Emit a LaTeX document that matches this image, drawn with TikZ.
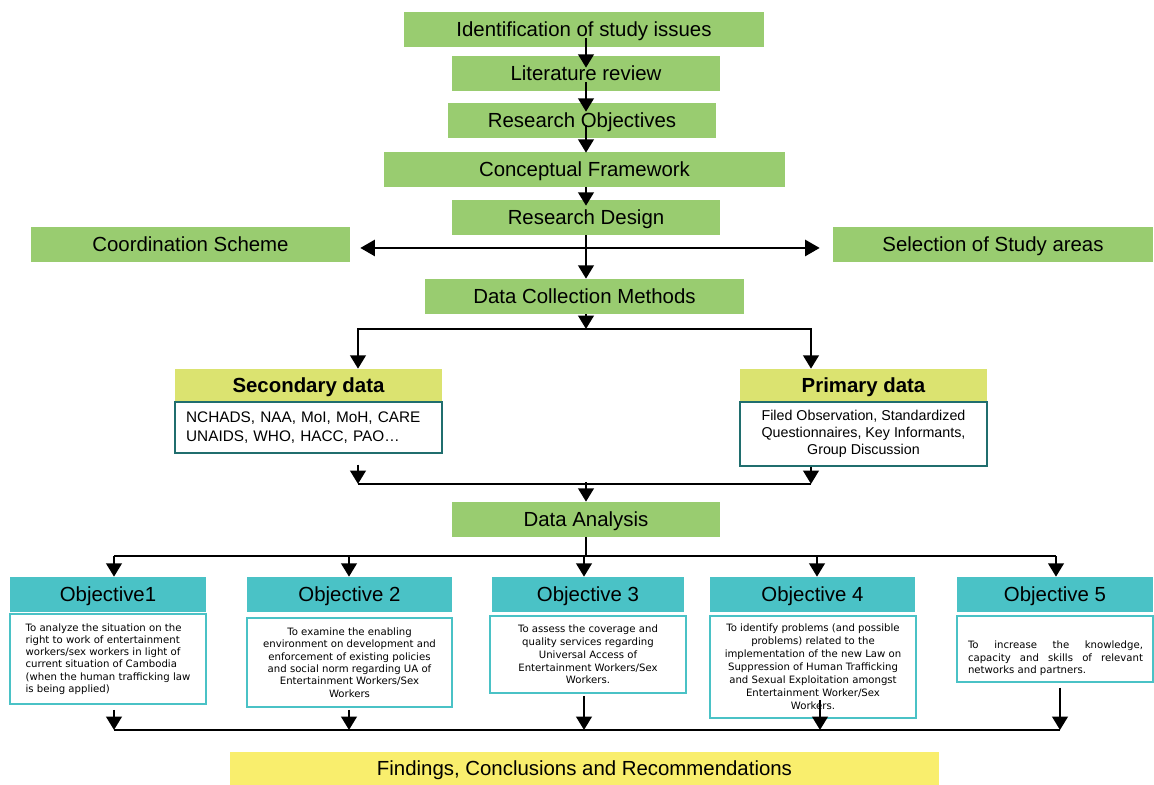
\documentclass[tikz,border=0pt]{standalone}
\usepackage{fontspec}
\setmainfont{Liberation Sans}
\newfontfamily\verdana{DejaVu Sans}
\usetikzlibrary{arrows.meta}
\usepackage{xcolor}
\definecolor{stagegreen}{RGB}{153,204,112}
\definecolor{objteal}{RGB}{74,194,198}
\definecolor{datalime}{RGB}{219,227,112}
\definecolor{findyellow}{RGB}{249,238,109}
\definecolor{datateal}{RGB}{32,110,110}
\newcommand{\mainsize}{\fontsize{15.3pt}{18pt}\selectfont}
\newcommand{\objsize}[1]{\verdana\fontsize{7.6pt}{#1}\selectfont}

\begin{document}
\begin{tikzpicture}[x=0.75pt,y=-0.75pt]
    \tikzset{
        stage/.style={fill=stagegreen,inner sep=0pt,minimum height=26.25pt,font=\mainsize,
            text height=11pt,text depth=0pt},
        datahead/.style={fill=datalime,inner sep=0pt,minimum height=24pt,font=\mainsize\bfseries,
            text height=11pt,text depth=0pt},
        databox/.style={draw=datateal,line width=1.3pt,fill=white,inner xsep=8.25pt,inner ysep=2pt},
        objhead/.style={fill=objteal,inner sep=0pt,minimum height=26.25pt,font=\mainsize,
            text height=11pt,text depth=0pt},
        objbox/.style={draw=objteal,line width=1.4pt,fill=white,inner sep=0pt},
        findbox/.style={fill=findyellow,inner sep=0pt,minimum height=24.75pt,font=\mainsize,
            text height=11pt,text depth=0pt},
        arr/.style={line width=2.1pt,-{Triangle[length=10pt,width=11.5pt]}},
        link/.style={line width=2.1pt}
    }
    \useasboundingbox (0,0) rectangle (1154,785);
    % main steps
    \node[stage,minimum width=270pt]    (ident)   at (584,29.5)   {Identification of study issues};
    \node[stage,minimum width=201pt]    (litrev)  at (586,73.5)   {Literature review};
    \node[stage,minimum width=201pt]    (resobj)  at (582,120.5)  {Research Objectives};
    \node[stage,minimum width=300.75pt] (concept) at (584.5,169.5) {Conceptual Framework};
    \node[stage,minimum width=201pt]    (design)  at (586,217.5)  {Research Design};
    \node[stage,minimum width=239.25pt] (coord)   at (190.5,244.5) {Coordination Scheme};
    \node[stage,minimum width=240pt]    (select)  at (993,244.5)  {Selection of Study areas};
    \node[stage,minimum width=239.25pt] (collect) at (584.5,296.5) {Data Collection Methods};
    % data sources
    \node[datahead,minimum width=200.25pt] (sechead) at (308.5,385) {Secondary data};
    \node[databox,anchor=north,minimum height=38.25pt,text width=183.5pt,align=left,
        font=\fontsize{11.5pt}{14.25pt}\selectfont] (secbox) at (308.5,401)
        {NCHADS, NAA, MoI, MoH, CARE\\UNAIDS, WHO, HACC, PAO\dots};
    \node[datahead,minimum width=185.25pt] (primhead) at (863.5,385) {Primary data};
    \node[databox,anchor=north,minimum width=185.25pt,minimum height=48pt,align=center,
        font=\fontsize{10.7pt}{12.75pt}\selectfont] (primbox) at (863.5,401)
        {Filed Observation, Standardized\\Questionnaires, Key Informants,\\Group Discussion};
    \node[stage,minimum width=201pt] (analysis) at (586,519.5) {Data Analysis};
    % objectives
    \node[objhead,minimum width=147pt]    (h1) at (108,594.5)   {Objective1};
    \node[objhead,minimum width=153.75pt] (h2) at (349.5,594.5) {Objective 2};
    \node[objhead,minimum width=144pt]    (h3) at (588,594.5)   {Objective 3};
    \node[objhead,minimum width=153.75pt] (h4) at (812.5,594.5) {Objective 4};
    \node[objhead,minimum width=147pt]    (h5) at (1055,594.5)  {Objective 5};
    \node[objbox,minimum width=147pt,minimum height=67.5pt,align=left,font=\objsize{9.2pt}]
        (o1) at (108,659) {To analyze the situation on the\\right to work of entertainment\\
        workers/sex workers in light of\\current situation of Cambodia\\
        (when the human trafficking law\\is being applied)};
    \node[objbox,minimum width=153.75pt,minimum height=66.75pt,align=center,font=\objsize{9.3pt}]
        (o2) at (349.5,662.5) {To examine the enabling\\environment on development and\\
        enforcement of existing policies\\and social norm regarding UA of\\
        Entertainment Workers/Sex\\Workers};
    \node[objbox,minimum width=147pt,minimum height=57.75pt,align=center,font=\objsize{9.6pt}]
        (o3) at (588,654.5) {To assess the coverage and\\quality services regarding\\
        Universal Access of\\Entertainment Workers/Sex\\Workers.};
    \node[objbox,minimum width=154.5pt,minimum height=76.5pt,align=center,font=\objsize{9.75pt}]
        (o4) at (813,667) {To identify problems (and possible\\problems) related to the\\
        implementation of the new Law on\\Suppression of Human Trafficking\\
        and Sexual Exploitation amongst\\Entertainment Worker/Sex\\Workers.};
    \node[objbox,minimum width=147pt,minimum height=49.5pt] (o5) at (1055,649) {};
    \node[inner sep=0pt,align=left,font=\objsize{9.4pt}] (o5text) at (1055.5,658.5)
        {\makebox[131.25pt][s]{To increase the knowledge,}\\
        \makebox[131.25pt][s]{capacity and skills of relevant}\\networks and partners.};
    \node[findbox,minimum width=531.75pt] (findings) at (584.5,768.5)
        {Findings, Conclusions and Recommendations};
    % connectors
    \coordinate (spine) at (586,0);
    \draw[arr,shorten <=-6.75pt,shorten >=-9pt] (ident.south -| spine) -- (litrev.north -| spine);
    \draw[arr,shorten <=-6.75pt,shorten >=-6.75pt] (litrev.south -| spine) -- (resobj.north -| spine);
    \draw[arr,shorten <=-9.75pt,shorten >=-0.75pt] (resobj.south -| spine) -- (concept.north -| spine);
    \draw[arr,shorten >=-4.5pt] (concept.south -| spine) -- (design.north -| spine);
    \draw[line width=2.1pt,{Triangle[length=11pt,width=12pt]}-{Triangle[length=11pt,width=12pt]},
        shorten <=7.5pt,shorten >=9.75pt] ([yshift=-2.6pt]coord.east) -- ([yshift=-2.6pt]select.west);
    \draw[arr] (design.south -| spine) -- (collect.north -| spine);
    \coordinate (splitL) at (358,329);
    \coordinate (splitR) at (811,329);
    \draw[arr] (collect.south -| spine) -- (spine |- splitL);
    \draw[arr] (spine |- splitL) -| (splitL |- sechead.north);
    \draw[arr] (spine |- splitR) -| (splitR |- primhead.north);
    \coordinate (mergeL) at (358,484);
    \coordinate (mergeR) at (811,484);
    \draw[arr,shorten <=8.25pt] (secbox.south -| mergeL) -- (mergeL);
    \draw[arr] (primbox.south -| mergeR) -- (mergeR);
    \draw[link] (mergeL) -- (mergeR);
    \draw[arr,shorten <=-1.5pt] (spine |- mergeL) -- (analysis.north -| spine);
    \foreach \i/\x in {1/114,2/349,3/584,4/817,5/1056}
        \coordinate (fan\i) at (\x,556);
    \draw[link] (analysis.south -| spine) -- (spine |- fan1);
    \draw[line width=1.7pt] (fan1) -- (fan5);
    \foreach \i in {1,...,5}
        \draw[arr] (fan\i) -- (fan\i |- h\i.north);
    \foreach \i/\x in {1/114,2/349,3/584,4/820,5/1060}
        \coordinate (join\i) at (\x,730);
    \coordinate (o4out) at (820,700);
    \draw[line width=1.7pt] (join1) -- (join5);
    \foreach \i/\s in {1/3.75pt,2/1.5pt,3/1.5pt,5/3.75pt}
        \draw[arr,shorten <=\s] (o\i.south -| join\i) -- (join\i);
    \draw[arr] (o4out) -- (join4);
\end{tikzpicture}
\end{document}
